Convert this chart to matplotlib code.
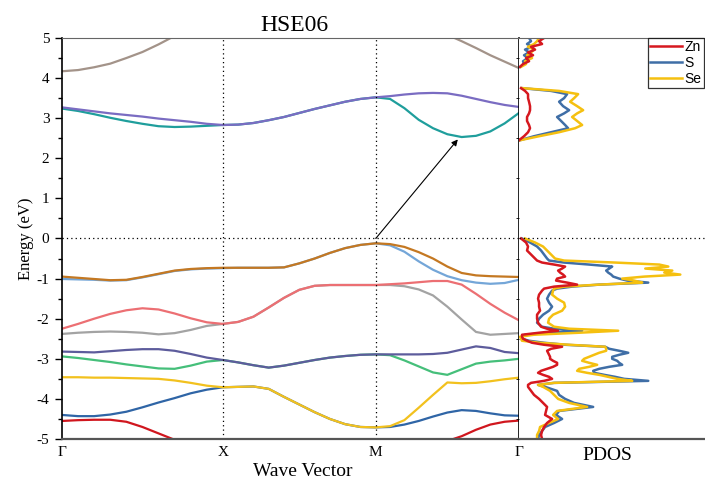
# -*- coding: utf-8 -*-

import numpy as np
import matplotlib.pyplot as plt

nan = np.nan

# Camino de alta simetria y etiquetas
k_nodos = [0.0, 1.0, 1.95, 2.84]
etiquetas_k = ["Γ", "X", "M", "Γ"]

# Bandas HSE06 (eV), 11 puntos en Γ-X, 10 en X-M y 10 en M-Γ
banda_c2 = [4.17, 4.20, 4.27, 4.36, 4.50, 4.65, 4.84, 5.05, nan, nan, nan,
            nan, nan, nan, nan, nan, nan, nan, nan, nan, nan,
            nan, nan, nan, nan, 5.08, 4.92, 4.75, 4.57, 4.41, 4.25]
banda_c1a = [3.27, 3.22, 3.17, 3.12, 3.08, 3.04, 2.99, 2.95, 2.91, 2.86, 2.83,
             2.84, 2.88, 2.95, 3.03, 3.13, 3.23, 3.32, 3.41, 3.48, 3.52,
             3.55, 3.59, 3.62, 3.63, 3.62, 3.56, 3.48, 3.40, 3.33, 3.28]
banda_c1b = [3.24, 3.18, 3.10, 3.01, 2.93, 2.86, 2.80, 2.78, 2.79, 2.81, 2.83,
             2.84, 2.88, 2.95, 3.03, 3.13, 3.23, 3.32, 3.41, 3.48, 3.52,
             3.48, 3.25, 2.96, 2.75, 2.60, 2.53, 2.56, 2.67, 2.87, 3.13]
banda_v1 = [-0.95, -0.98, -1.01, -1.04, -1.03, -0.96, -0.88, -0.80, -0.76, -0.74, -0.73,
            -0.73, -0.73, -0.73, -0.72, -0.62, -0.50, -0.36, -0.24, -0.16, -0.12,
            -0.14, -0.21, -0.34, -0.50, -0.70, -0.86, -0.92, -0.94, -0.95, -0.96]
banda_v2 = [-1.01, -1.02, -1.03, -1.05, -1.04, -0.97, -0.89, -0.81, -0.77, -0.75, -0.74,
            -0.73, -0.73, -0.73, -0.72, -0.62, -0.50, -0.36, -0.24, -0.16, -0.12,
            -0.17, -0.33, -0.57, -0.78, -0.94, -1.04, -1.10, -1.13, -1.11, -1.03]
banda_v3 = [-2.25, -2.13, -2.00, -1.88, -1.79, -1.74, -1.77, -1.87, -1.99, -2.09, -2.13,
            -2.08, -1.95, -1.72, -1.48, -1.28, -1.18, -1.16, -1.16, -1.16, -1.16,
            -1.14, -1.12, -1.09, -1.06, -1.06, -1.15, -1.38, -1.63, -1.85, -2.04]
banda_v4 = [-2.38, -2.35, -2.33, -2.32, -2.33, -2.35, -2.39, -2.36, -2.28, -2.18, -2.13,
            -2.08, -1.95, -1.72, -1.48, -1.28, -1.18, -1.16, -1.16, -1.16, -1.16,
            -1.16, -1.19, -1.27, -1.42, -1.70, -2.02, -2.33, -2.40, -2.38, -2.36]
banda_v5 = [-2.82, -2.83, -2.84, -2.81, -2.78, -2.76, -2.76, -2.80, -2.88, -2.97, -3.03,
            -3.09, -3.16, -3.22, -3.17, -3.10, -3.03, -2.97, -2.93, -2.90, -2.89,
            -2.89, -2.89, -2.89, -2.88, -2.85, -2.77, -2.69, -2.73, -2.83, -2.86]
banda_v6 = [-2.94, -2.98, -3.03, -3.08, -3.14, -3.19, -3.24, -3.25, -3.17, -3.07, -3.03,
            -3.09, -3.16, -3.22, -3.17, -3.10, -3.03, -2.97, -2.93, -2.90, -2.89,
            -2.91, -3.04, -3.19, -3.34, -3.40, -3.26, -3.12, -3.07, -3.04, -3.00]
banda_v7 = [-3.46, -3.46, -3.47, -3.47, -3.48, -3.49, -3.50, -3.54, -3.60, -3.67, -3.71,
            -3.70, -3.69, -3.75, -3.95, -4.14, -4.33, -4.50, -4.63, -4.70, -4.71,
            -4.68, -4.53, -4.22, -3.90, -3.59, -3.61, -3.60, -3.56, -3.51, -3.47]
banda_v8 = [-4.40, -4.43, -4.43, -4.39, -4.32, -4.21, -4.09, -3.98, -3.86, -3.77, -3.71,
            -3.70, -3.69, -3.75, -3.95, -4.14, -4.33, -4.50, -4.63, -4.70, -4.71,
            -4.70, -4.64, -4.55, -4.44, -4.34, -4.28, -4.30, -4.36, -4.41, -4.42]
banda_v9 = [-4.55, -4.53, -4.52, -4.52, -4.57, -4.70, -4.86, -5.02, nan, nan, nan,
            nan, nan, nan, nan, nan, nan, nan, nan, nan, nan,
            nan, nan, nan, nan, -5.05, -4.93, -4.77, -4.64, -4.57, -4.54]

# Orden de dibujo: las bandas degeneradas que quedan debajo van primero
bandas = [
    (banda_c1b, "#1f9e9c"), (banda_c1a, "#7a6cc2"), (banda_c2, "#a39389"),
    (banda_v2, "#74a6d8"), (banda_v1, "#c47822"),
    (banda_v4, "#a3a3a3"), (banda_v3, "#ec6f73"),
    (banda_v6, "#45bf7a"), (banda_v5, "#5d5c9c"),
    (banda_v8, "#2f65a6"), (banda_v7, "#f2c11e"),
    (banda_v9, "#d0161e"),
]

# PDOS: banda de valencia, y dos tramos de la banda de conduccion
e_bv = [0.0, -0.1, -0.2, -0.3, -0.4, -0.5,
        -0.55, -0.6, -0.65, -0.7, -0.75, -0.8, -0.85, -0.9, -0.95, -1.0, -1.05, -1.1, -1.15, -1.2, -1.25,
        -1.3, -1.4, -1.5, -1.6, -1.7, -1.8, -1.9, -2.0, -2.1, -2.2,
        -2.25, -2.3, -2.35, -2.4, -2.45, -2.5, -2.55, -2.6, -2.65, -2.7, -2.75, -2.8, -2.85, -2.9, -2.95,
        -3.0, -3.05, -3.1, -3.15, -3.2, -3.25, -3.3, -3.35, -3.4, -3.45, -3.5, -3.55, -3.6, -3.65,
        -3.7, -3.8, -3.9, -4.0, -4.1, -4.2, -4.3, -4.4, -4.5, -4.6, -4.7, -4.8, -4.9, -5.0]
zn_bv = [0.2, 0.7, 0.9, 0.8, 1.2, 1.6,
         1.8, 2.3, 3.5, 4.6, 4.3, 3.9, 4.1, 4.4, 4.6, 3.8, 3.7, 4.8, 5.8, 3.5, 2.5,
         2.3, 2.0, 1.9, 2.0, 2.0, 2.1, 1.8, 1.8, 1.9, 2.2,
         2.8, 3.9, 2.0, 0.3, 0.3, 0.4, 0.8, 1.3, 2.5, 4.3, 3.2, 2.8, 2.9, 3.0, 3.1,
         3.1, 3.4, 3.8, 3.8, 3.4, 2.8, 2.2, 1.9, 2.4, 3.0, 3.3, 2.5, 1.2, 0.9,
         0.9, 1.2, 1.5, 2.0, 2.4, 2.8, 2.7, 2.6, 3.3, 2.8, 2.5, 2.3, 2.2, 2.3]
s_bv = [0.3, 1.1, 1.8, 2.2, 2.5, 2.8,
        3.0, 4.5, 7.0, 9.3, 9.0, 8.7, 8.9, 9.2, 9.4, 10.0, 10.8, 12.9, 8.0, 5.3, 3.8,
        3.3, 3.0, 2.8, 3.0, 3.3, 3.0, 2.4, 2.0, 1.8, 2.3,
        3.5, 6.3, 3.0, 0.6, 0.3, 0.3, 1.0, 2.5, 4.6, 8.6, 9.0, 10.0, 10.9, 10.0, 9.3,
        9.3, 9.8, 10.0, 10.3, 9.0, 8.0, 7.4, 7.5, 8.5, 9.6, 10.5, 12.9, 3.5, 1.9,
        2.6, 3.8, 4.0, 4.6, 5.5, 7.4, 4.0, 3.7, 4.3, 3.5, 2.6, 2.3, 2.0, 1.9]
se_bv = [0.6, 1.6, 2.4, 2.8, 3.2, 3.6,
         4.5, 9.6, 14.0, 14.9, 12.6, 15.3, 14.5, 16.1, 12.5, 10.3, 11.5, 12.3, 8.0, 4.5, 3.5,
         3.4, 3.3, 3.8, 4.5, 4.6, 4.3, 3.4, 3.0, 2.9, 3.5,
         5.0, 9.9, 6.0, 1.5, 0.1, 0.2, 0.3, 2.0, 5.0, 8.6, 8.7, 8.7, 8.0, 7.5, 7.0,
         6.5, 6.3, 7.0, 7.8, 7.0, 6.0, 5.8, 6.8, 8.0, 8.9, 9.8, 11.3, 3.5, 1.9,
         2.4, 3.1, 3.5, 3.9, 5.0, 6.8, 3.8, 3.4, 3.9, 3.0, 2.1, 2.0, 1.8, 1.8]

e_bc1 = [2.45, 2.55, 2.65, 2.75, 2.83, 2.93, 3.03, 3.12, 3.2, 3.3, 3.41, 3.5, 3.6, 3.68, 3.75]
zn_bc1 = [0.0, 0.5, 0.9, 1.1, 1.0, 0.8, 0.8, 1.0, 1.1, 1.1, 1.0, 0.9, 0.9, 0.6, 0.2]
s_bc1 = [0.1, 1.5, 3.2, 4.9, 4.6, 4.2, 3.8, 4.5, 5.0, 4.4, 4.0, 4.5, 4.8, 3.2, 0.3]
se_bc1 = [0.1, 2.0, 4.0, 5.6, 6.3, 5.8, 5.3, 5.8, 6.4, 5.8, 5.1, 5.5, 5.9, 4.0, 0.3]

e_bc2 = [4.28, 4.35, 4.42, 4.5, 4.57, 4.64, 4.71, 4.78, 4.85, 4.92, 5.0]
zn_bc2 = [0.1, 0.4, 1.0, 0.7, 1.4, 0.9, 1.6, 1.2, 2.3, 2.0, 2.5]
s_bc2 = [0.1, 0.5, 0.4, 0.9, 0.5, 1.0, 0.6, 1.3, 0.8, 1.2, 1.0]
se_bc2 = [0.2, 0.7, 0.6, 1.3, 0.8, 1.2, 1.5, 0.9, 1.5, 1.8, 2.0]

elementos = ["Zn", "S", "Se"]
colores_pdos = {"Zn": "#d6181f", "S": "#3f6ea6", "Se": "#f5c010"}


def unir(*tramos):
    # Junta los tramos separados por un NaN para que no se unan los huecos
    salida = []
    for t in tramos:
        salida += list(t) + [nan]
    return np.array(salida[:-1])


energia_pdos = unir(e_bv, e_bc1, e_bc2)
pdos = {
    "Zn": unir(zn_bv, zn_bc1, zn_bc2),
    "S": unir(s_bv, s_bc1, s_bc2),
    "Se": unir(se_bv, se_bc1, se_bc2),
}

plt.rcParams["font.family"] = "Liberation Serif"
plt.rcParams["axes.unicode_minus"] = False

fig = plt.figure(figsize=(7.05, 4.82), dpi=100)
ax = fig.add_axes([0.0879, 0.0892, 0.6482, 0.832])
ax_dos = fig.add_axes([0.7362, 0.0892, 0.27, 0.832], sharey=ax)

# Estructura de bandas
k = np.concatenate([
    np.linspace(k_nodos[0], k_nodos[1], 11),
    np.linspace(k_nodos[1], k_nodos[2], 11)[1:],
    np.linspace(k_nodos[2], k_nodos[3], 11)[1:],
])
for valores, color in bandas:
    ax.plot(k, valores, color=color, lw=1.6, solid_capstyle="round")

for kn in k_nodos[1:3]:
    ax.axvline(kn, color="black", ls=(0, (1, 2.5)), lw=0.9)
ax.axhline(0, color="black", ls=(0, (1, 2.5)), lw=0.9)

# Flecha de la transicion M -> minimo de conduccion
ax.annotate("", xy=(2.46, 2.47), xytext=(k_nodos[2], 0.0),
            arrowprops=dict(arrowstyle="-|>", color="black", lw=0.8,
                            mutation_scale=9, shrinkA=0, shrinkB=0))

ax.set_xlim(k_nodos[0], k_nodos[-1])
ax.set_ylim(-5, 5)
ax.set_xticks(k_nodos)
ax.set_xticklabels(etiquetas_k, fontsize=11)
ax.tick_params(axis="x", length=0, pad=5)
ax.set_yticks(range(-5, 6))
ax.set_yticks(np.arange(-4.5, 5, 1.0), minor=True)
ax.tick_params(axis="y", which="major", direction="out", length=5, width=1, labelsize=11, pad=4)
ax.tick_params(axis="y", which="minor", direction="out", length=3, width=1)
ax.set_ylabel("Energy (eV)", fontsize=12, labelpad=2)
for lado in ["left", "right"]:
    ax.spines[lado].set_color("black")
    ax.spines[lado].set_linewidth(1.2)
ax.spines["top"].set_color("#666666")
ax.spines["bottom"].set_color("#555555")
ax.spines["bottom"].set_linewidth(1.6)

fig.text(0.418, 0.948, "HSE06", fontsize=17, ha="center", va="center")
fig.text(0.43, 0.021, "Wave Vector", fontsize=14, ha="center", va="center")
fig.text(0.862, 0.056, "PDOS", fontsize=14, ha="center", va="center")

# PDOS proyectada por elemento
lineas = {}
for el in ["S", "Se", "Zn"]:
    lineas[el], = ax_dos.plot(pdos[el], energia_pdos, color=colores_pdos[el], lw=1.8)
ax_dos.axhline(0, color="black", ls=(0, (1, 2.5)), lw=0.9)
ax_dos.set_xlim(0, 19.0)
ax_dos.tick_params(left=False, labelleft=False, bottom=False, labelbottom=False)
ax_dos.spines["left"].set_visible(False)
ax_dos.spines["right"].set_visible(False)
ax_dos.spines["top"].set_color("#666666")
ax_dos.spines["bottom"].set_color("#555555")
ax_dos.spines["bottom"].set_linewidth(1.6)

leg = ax_dos.legend([lineas[el] for el in elementos], elementos,
                    loc="upper left", bbox_to_anchor=(648 / 705, 1 - 38 / 482),
                    bbox_transform=fig.transFigure, frameon=True, fancybox=False,
                    prop={"family": "Liberation Sans", "size": 10},
                    handlelength=2.3, handletextpad=0.2, borderpad=0.15,
                    labelspacing=0.15, borderaxespad=0)
leg.get_frame().set_edgecolor("black")
leg.get_frame().set_linewidth(0.9)

plt.savefig("out.png", dpi=100)
plt.close()
